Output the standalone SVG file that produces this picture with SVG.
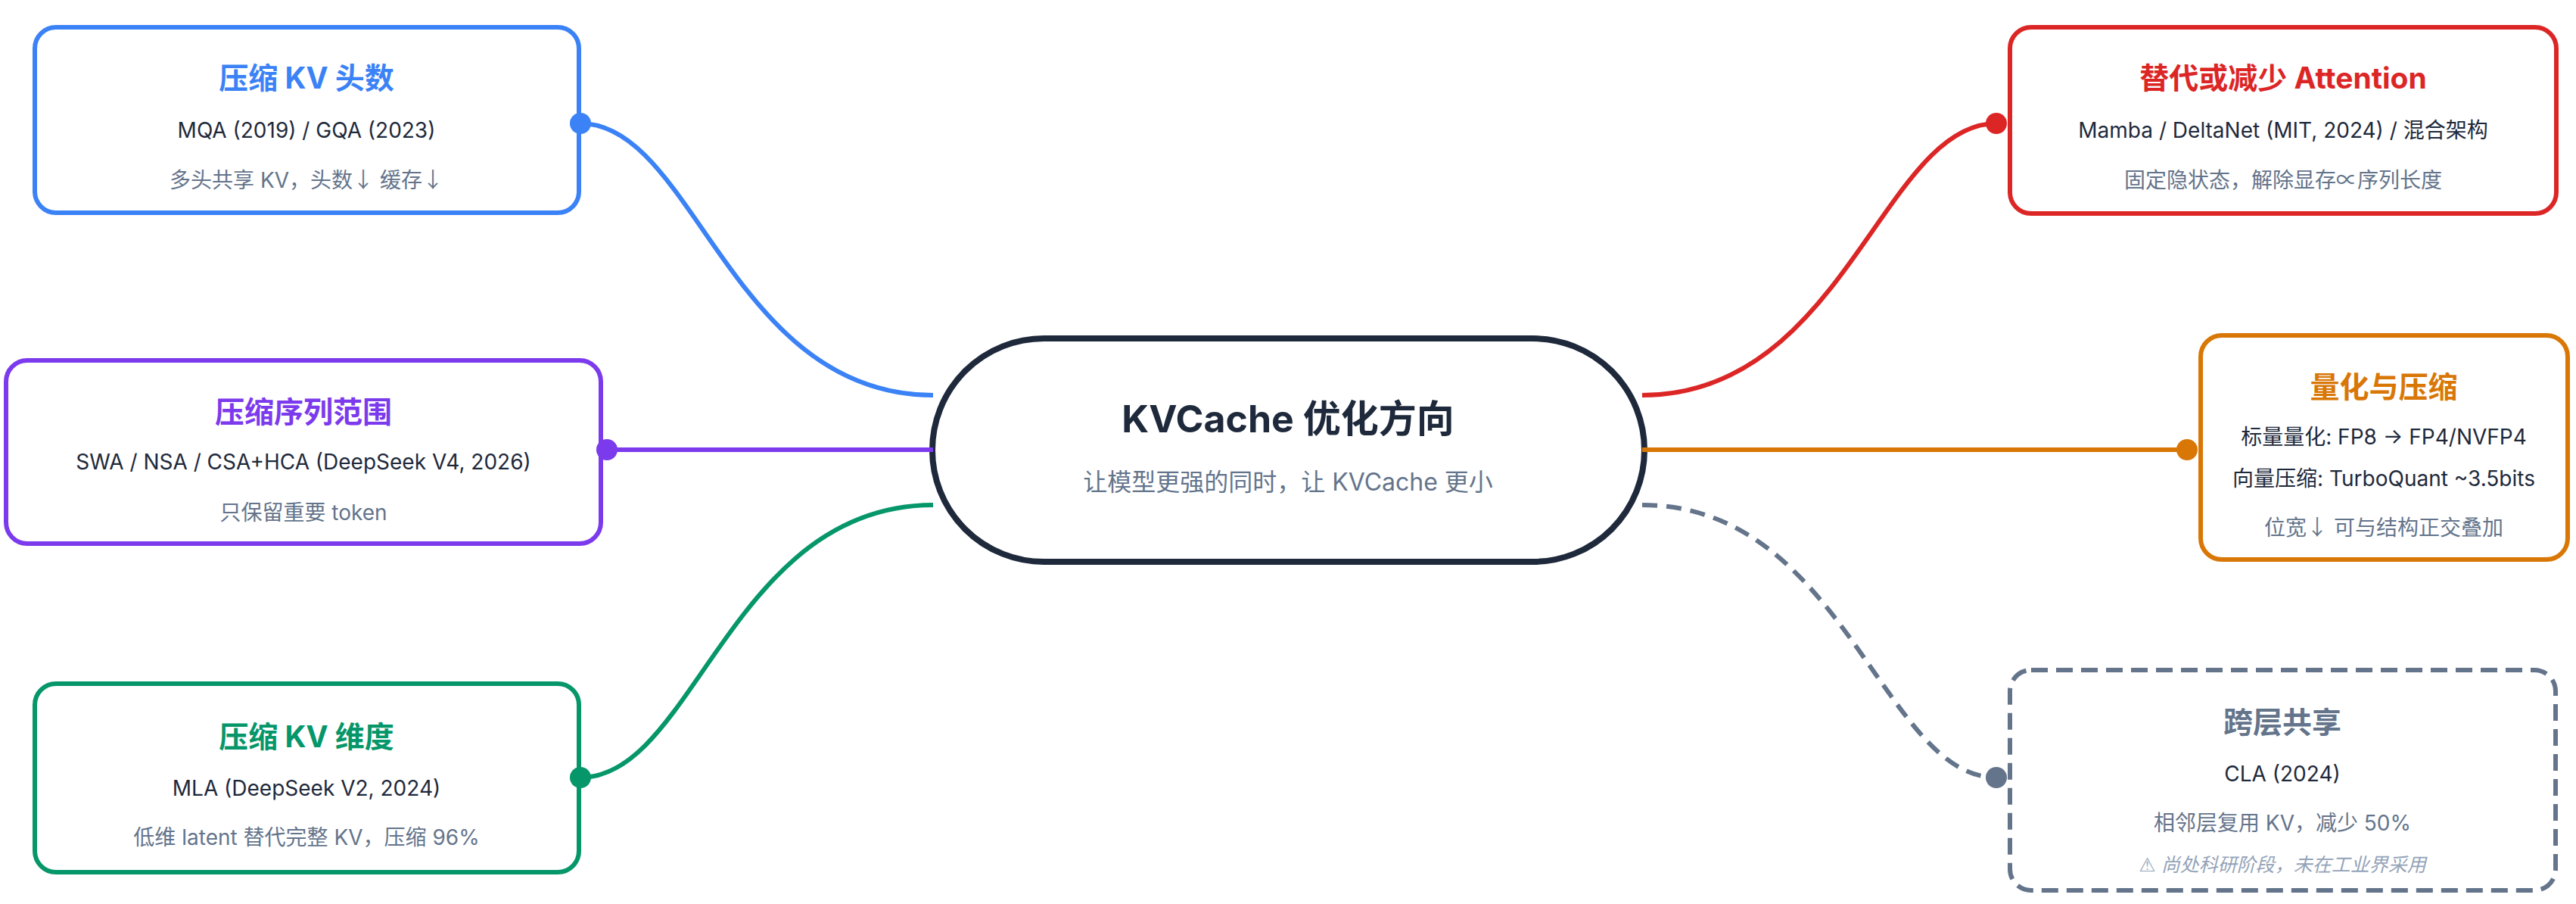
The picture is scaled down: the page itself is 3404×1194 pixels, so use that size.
<svg xmlns="http://www.w3.org/2000/svg" width="3404" height="1194" viewBox="0 0 3404 1194">
<style>
text{font-family:"Inter","Noto Sans CJK SC",sans-serif;text-anchor:middle}
.box{fill:#ffffff;stroke-width:6}
.t{font-size:39px;font-weight:700}
.l2{font-size:28px;fill:#1e293b}
.l3{font-size:28px;fill:#64748b}
.note{font-size:25px;fill:#94a3b8;font-style:italic}
.ar{font-family:"Noto Sans CJK SC",sans-serif}
.warn{font-family:"DejaVu Sans",sans-serif;font-style:normal}
.c{fill:none;stroke-width:6}
</style>
<rect width="3404" height="1194" fill="#ffffff"/>
<g id="node-center">
<rect x="1232" y="447" width="941" height="295" rx="147.5" ry="147.5" fill="#ffffff" stroke="#1e293b" stroke-width="8"/>
<text x="1702" y="571" style="font-size:50px;font-weight:700;fill:#1e293b">KVCache 优化方向</text>
<text x="1702" y="648" style="font-size:32px;fill:#64748b">让模型更强的同时，让 KVCache 更小</text>
</g>
<g id="node-heads">
<rect class="box" x="46" y="36" width="719" height="245" rx="28" stroke="#3b82f6"/>
<text class="t" x="405" y="117" fill="#3b82f6">压缩 KV 头数</text>
<text class="l2" x="405" y="182">MQA (2019) / GQA (2023)</text>
<text class="l3" x="405" y="248">多头共享 KV，头数<tspan class="ar">↓</tspan> 缓存<tspan class="ar">↓</tspan></text>
</g>
<g id="node-seq">
<rect class="box" x="8" y="476" width="786" height="242" rx="28" stroke="#7c3aed"/>
<text class="t" x="401" y="558" fill="#7c3aed">压缩序列范围</text>
<text class="l2" x="401" y="620">SWA / NSA / CSA+HCA (DeepSeek V4, 2026)</text>
<text class="l3" x="401" y="687">只保留重要 token</text>
</g>
<g id="node-dim">
<rect class="box" x="46" y="903" width="719" height="249" rx="28" stroke="#059669"/>
<text class="t" x="405" y="987" fill="#059669">压缩 KV 维度</text>
<text class="l2" x="405" y="1051">MLA (DeepSeek V2, 2024)</text>
<text class="l3" x="405" y="1116">低维 latent 替代完整 KV，压缩 96%</text>
</g>
<g id="node-attn">
<rect class="box" x="2656" y="36" width="722" height="246" rx="28" stroke="#dc2626"/>
<text class="t" x="3017" y="117" fill="#dc2626">替代或减少 Attention</text>
<text class="l2" x="3017" y="182">Mamba / DeltaNet (MIT, 2024) / 混合架构</text>
<text class="l3" x="3017" y="248">固定隐状态，解除显存∝序列长度</text>
</g>
<g id="node-quant">
<rect class="box" x="2908" y="443" width="485" height="296" rx="28" stroke="#d97706"/>
<text class="t" x="3150" y="525" fill="#d97706">量化与压缩</text>
<text class="l2" x="3150" y="587">标量量化: FP8 → FP4/NVFP4</text>
<text class="l2" x="3150" y="642">向量压缩: TurboQuant ~3.5bits</text>
<text class="l3" x="3150" y="707">位宽<tspan class="ar">↓</tspan> 可与结构正交叠加</text>
</g>
<g id="node-cla">
<rect class="box" x="2656" y="885" width="721" height="291" rx="28" stroke="#64748b" stroke-dasharray="22 11"/>
<text class="t" x="3016" y="968" fill="#64748b">跨层共享</text>
<text class="l2" x="3016" y="1032">CLA (2024)</text>
<text class="l3" x="3016" y="1097">相邻层复用 KV，减少 50%</text>
<text class="note" x="3016" y="1151"><tspan class="warn">⚠</tspan> 尚处科研阶段，未在工业界采用</text>
</g>
<g id="connectors">
<path class="c" d="M767 163 C917 163 966 522 1233 522" stroke="#3b82f6"/>
<path class="c" d="M802 594 L1233 594" stroke="#7c3aed"/>
<path class="c" d="M767 1027 C917 1027 966 667 1233 667" stroke="#059669"/>
<path class="c" d="M2170 522 C2437 522 2488 163 2638 163" stroke="#dc2626"/>
<path class="c" d="M2170 594 L2890 594" stroke="#d97706"/>
<path class="c" d="M2170 667 C2437 667 2488 1027 2638 1027" stroke="#64748b" stroke-dasharray="20 12"/>
<circle cx="767" cy="163" r="14" fill="#3b82f6"/>
<circle cx="802" cy="594" r="14" fill="#7c3aed"/>
<circle cx="767" cy="1027" r="14" fill="#059669"/>
<circle cx="2638" cy="163" r="14" fill="#dc2626"/>
<circle cx="2890" cy="594" r="14" fill="#d97706"/>
<circle cx="2638" cy="1027" r="14" fill="#64748b"/>
</g>
</svg>
